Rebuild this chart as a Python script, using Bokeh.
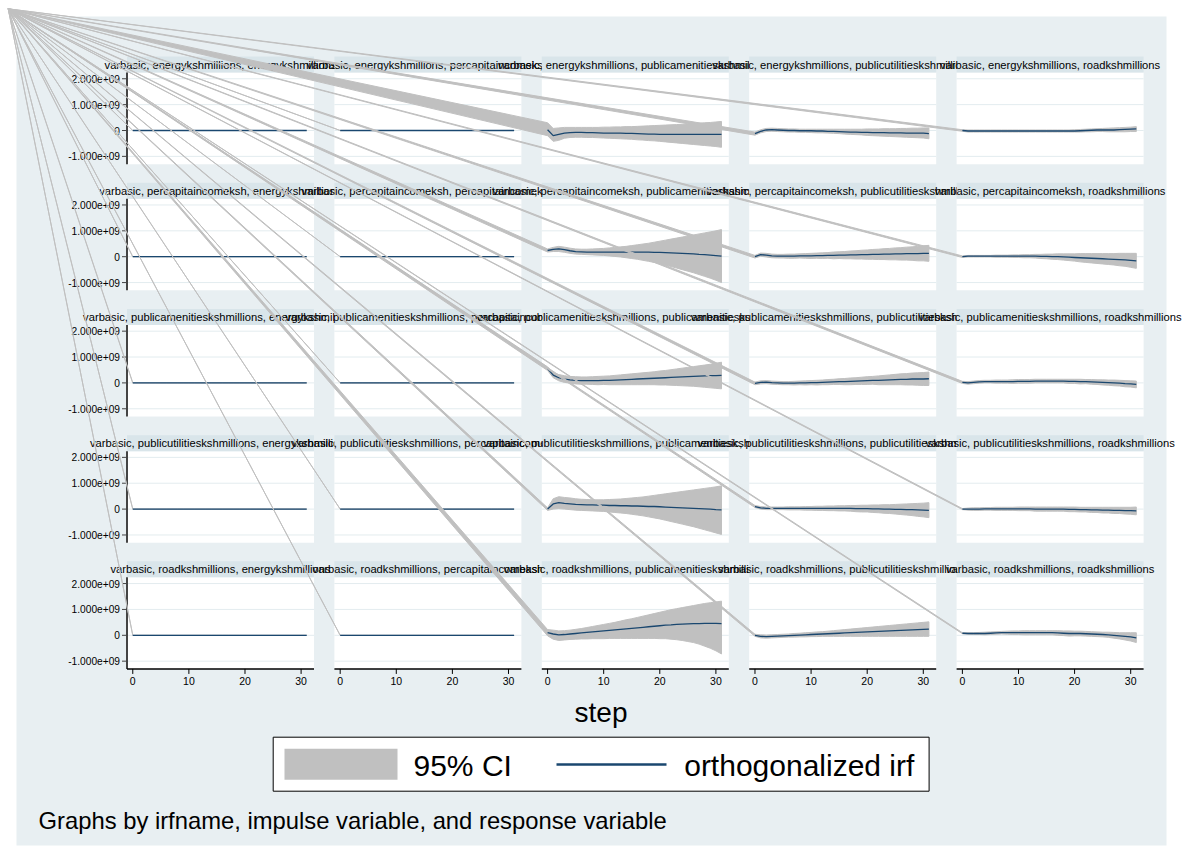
import math
from bokeh.plotting import figure
from bokeh.models import Range1d
from bokeh.embed import file_html
from bokeh.resources import INLINE
from bokeh.core.properties import value

# ---------------- data ----------------
irfname = "varbasic"
variables = ["energykshmillions", "percapitaincomeksh", "publicamenitieskshmillions",
             "publicutilitieskshmillions", "roadkshmillions"]
steps = list(range(32))
y_ticks = [-1, 0, 1, 2]                     # units of 1e9
y_tick_labels = ["-1.000e+09", "0", "1.000e+09", "2.000e+09"]
x_ticks = [0, 10, 20, 30]
x_tick_labels = ["0", "10", "20", "30"]

zero32 = [0.0] * 32   # responses of energy and per-capita income are ~0 on this scale

# impulse energy
irf_1_3 = [0.03,-0.20,-0.15,-0.10,-0.08,-0.07,-0.07,-0.08,-0.08,-0.09,-0.10,-0.10,-0.10,-0.10,-0.11,-0.11,-0.12,-0.13,-0.14,-0.14,-0.15,-0.15,-0.15,-0.15,-0.15,-0.15,-0.15,-0.15,-0.15,-0.15,-0.15,-0.15]
hi_1_3 = [0.30,0.08,0.10,0.12,0.12,0.12,0.12,0.12,0.12,0.12,0.13,0.13,0.14,0.14,0.15,0.15,0.16,0.17,0.18,0.19,0.20,0.21,0.22,0.23,0.24,0.25,0.27,0.28,0.30,0.31,0.33,0.35]
lo_1_3 = [-0.20,-0.42,-0.38,-0.30,-0.27,-0.26,-0.26,-0.27,-0.27,-0.28,-0.29,-0.30,-0.31,-0.32,-0.33,-0.34,-0.36,-0.37,-0.39,-0.40,-0.42,-0.44,-0.46,-0.48,-0.50,-0.52,-0.54,-0.56,-0.58,-0.60,-0.62,-0.65]
irf_1_4 = [-0.12,-0.03,0.02,0.03,0.02,0.01,0.0,0.0,-0.01,-0.01,-0.01,-0.02,-0.02,-0.03,-0.03,-0.04,-0.05,-0.06,-0.06,-0.07,-0.07,-0.08,-0.08,-0.08,-0.09,-0.09,-0.09,-0.10,-0.10,-0.10,-0.10,-0.12]
hi_1_4 = [-0.06,0.03,0.08,0.09,0.08,0.07,0.06,0.06,0.05,0.05,0.05,0.05,0.05,0.05,0.05,0.05,0.05,0.05,0.05,0.05,0.06,0.06,0.06,0.07,0.07,0.07,0.08,0.08,0.09,0.09,0.10,0.10]
lo_1_4 = [-0.18,-0.09,-0.04,-0.03,-0.04,-0.05,-0.06,-0.06,-0.07,-0.07,-0.08,-0.09,-0.09,-0.10,-0.11,-0.12,-0.14,-0.15,-0.16,-0.17,-0.19,-0.20,-0.21,-0.22,-0.23,-0.24,-0.25,-0.26,-0.27,-0.28,-0.29,-0.32]
irf_1_5 = [0.0,-0.02,-0.02,-0.02,-0.02,-0.02,-0.02,-0.02,-0.02,-0.02,-0.02,-0.02,-0.02,-0.02,-0.02,-0.02,-0.02,-0.02,-0.02,-0.02,-0.02,-0.01,0.0,0.01,0.02,0.02,0.02,0.02,0.03,0.04,0.05,0.06]
hi_1_5 = [0.03,0.02,0.02,0.02,0.02,0.02,0.02,0.02,0.02,0.02,0.02,0.02,0.02,0.02,0.02,0.02,0.02,0.02,0.02,0.02,0.03,0.04,0.05,0.06,0.07,0.08,0.09,0.10,0.11,0.12,0.13,0.15]
lo_1_5 = [-0.03,-0.06,-0.06,-0.06,-0.06,-0.06,-0.06,-0.06,-0.06,-0.06,-0.06,-0.06,-0.06,-0.06,-0.06,-0.06,-0.06,-0.06,-0.06,-0.06,-0.06,-0.06,-0.05,-0.05,-0.04,-0.04,-0.05,-0.05,-0.05,-0.05,-0.04,-0.04]

# impulse per-capita income
irf_2_3 = [0.24,0.28,0.30,0.27,0.23,0.20,0.19,0.18,0.18,0.18,0.18,0.18,0.18,0.18,0.18,0.18,0.18,0.18,0.18,0.17,0.17,0.16,0.15,0.14,0.13,0.12,0.11,0.09,0.08,0.06,0.04,0.02]
hi_2_3 = [0.30,0.36,0.40,0.37,0.33,0.30,0.29,0.29,0.30,0.31,0.32,0.34,0.36,0.38,0.40,0.43,0.46,0.49,0.52,0.56,0.60,0.64,0.68,0.72,0.76,0.80,0.84,0.88,0.92,0.96,1.00,1.05]
lo_2_3 = [0.18,0.20,0.20,0.17,0.13,0.10,0.09,0.08,0.07,0.06,0.05,0.03,0.01,-0.01,-0.04,-0.07,-0.10,-0.14,-0.18,-0.22,-0.27,-0.32,-0.38,-0.44,-0.50,-0.56,-0.62,-0.69,-0.76,-0.83,-0.91,-1.00]
irf_2_4 = [0.0,0.08,0.06,0.03,0.02,0.02,0.02,0.02,0.03,0.03,0.03,0.04,0.04,0.05,0.05,0.06,0.06,0.07,0.07,0.08,0.08,0.09,0.09,0.10,0.10,0.11,0.11,0.12,0.12,0.12,0.13,0.13]
hi_2_4 = [0.05,0.14,0.13,0.10,0.09,0.09,0.10,0.10,0.11,0.12,0.13,0.14,0.15,0.16,0.18,0.19,0.20,0.22,0.23,0.25,0.26,0.28,0.29,0.31,0.32,0.34,0.35,0.37,0.38,0.40,0.42,0.44]
lo_2_4 = [-0.05,0.02,-0.01,-0.04,-0.05,-0.05,-0.06,-0.06,-0.05,-0.06,-0.07,-0.06,-0.07,-0.06,-0.08,-0.07,-0.08,-0.08,-0.09,-0.09,-0.10,-0.10,-0.11,-0.11,-0.12,-0.12,-0.13,-0.13,-0.14,-0.16,-0.16,-0.18]
irf_2_5 = [0.0,0.02,0.02,0.02,0.02,0.02,0.02,0.02,0.02,0.02,0.02,0.02,0.02,0.02,0.01,0.01,0.0,0.0,-0.01,-0.02,-0.03,-0.04,-0.05,-0.06,-0.07,-0.08,-0.09,-0.10,-0.11,-0.12,-0.14,-0.16]
hi_2_5 = [0.03,0.05,0.05,0.05,0.05,0.05,0.06,0.06,0.06,0.07,0.07,0.08,0.08,0.09,0.09,0.10,0.10,0.11,0.11,0.11,0.11,0.12,0.12,0.12,0.12,0.12,0.12,0.12,0.13,0.13,0.13,0.13]
lo_2_5 = [-0.03,-0.01,-0.01,-0.01,-0.01,-0.01,-0.02,-0.02,-0.02,-0.03,-0.03,-0.04,-0.04,-0.05,-0.07,-0.08,-0.10,-0.11,-0.13,-0.15,-0.17,-0.20,-0.22,-0.24,-0.26,-0.28,-0.30,-0.32,-0.35,-0.37,-0.41,-0.45]

# impulse public amenities
irf_3_3 = [0.55,0.30,0.20,0.15,0.12,0.10,0.09,0.09,0.09,0.09,0.10,0.10,0.11,0.12,0.13,0.14,0.15,0.16,0.17,0.18,0.19,0.20,0.21,0.22,0.23,0.24,0.25,0.26,0.27,0.28,0.28,0.29]
hi_3_3 = [0.62,0.40,0.32,0.28,0.25,0.24,0.23,0.23,0.24,0.25,0.26,0.27,0.29,0.31,0.33,0.35,0.37,0.39,0.41,0.43,0.46,0.48,0.51,0.54,0.57,0.60,0.63,0.66,0.69,0.72,0.76,0.80]
lo_3_3 = [0.48,0.20,0.08,0.02,-0.01,-0.04,-0.05,-0.05,-0.06,-0.07,-0.06,-0.07,-0.07,-0.07,-0.07,-0.07,-0.07,-0.07,-0.07,-0.07,-0.08,-0.08,-0.09,-0.10,-0.11,-0.12,-0.13,-0.15,-0.17,-0.19,-0.21,-0.23]
irf_3_4 = [-0.02,0.02,0.03,0.01,0.0,-0.01,-0.01,-0.01,0.0,0.0,0.01,0.01,0.02,0.03,0.04,0.05,0.05,0.06,0.07,0.08,0.09,0.10,0.10,0.11,0.12,0.13,0.14,0.14,0.15,0.15,0.15,0.16]
hi_3_4 = [0.03,0.08,0.09,0.07,0.06,0.05,0.05,0.06,0.07,0.08,0.09,0.10,0.11,0.13,0.14,0.16,0.17,0.19,0.20,0.22,0.24,0.25,0.27,0.29,0.31,0.33,0.35,0.36,0.38,0.39,0.40,0.42]
lo_3_4 = [-0.07,-0.04,-0.03,-0.05,-0.06,-0.07,-0.07,-0.08,-0.07,-0.08,-0.07,-0.08,-0.07,-0.07,-0.06,-0.06,-0.07,-0.07,-0.06,-0.06,-0.06,-0.05,-0.07,-0.07,-0.07,-0.07,-0.07,-0.08,-0.08,-0.09,-0.10,-0.10]
irf_3_5 = [0.02,0.0,0.02,0.04,0.05,0.05,0.05,0.05,0.05,0.05,0.06,0.06,0.06,0.07,0.07,0.07,0.07,0.07,0.07,0.06,0.06,0.05,0.05,0.04,0.03,0.02,0.01,0.0,-0.01,-0.03,-0.04,-0.06]
hi_3_5 = [0.06,0.05,0.07,0.09,0.10,0.10,0.11,0.11,0.11,0.12,0.13,0.13,0.13,0.14,0.14,0.14,0.14,0.14,0.14,0.14,0.14,0.14,0.13,0.13,0.12,0.12,0.11,0.11,0.10,0.09,0.08,0.07]
lo_3_5 = [-0.02,-0.05,-0.03,-0.01,0.0,0.0,-0.01,-0.01,-0.01,-0.02,-0.01,-0.01,-0.01,0.0,0.0,0.0,0.0,0.0,0.0,-0.02,-0.02,-0.04,-0.03,-0.05,-0.06,-0.08,-0.09,-0.11,-0.12,-0.15,-0.16,-0.19]

# impulse public utilities
irf_4_3 = [0.0,0.20,0.25,0.22,0.20,0.18,0.17,0.16,0.16,0.15,0.15,0.14,0.14,0.13,0.13,0.12,0.12,0.11,0.10,0.10,0.09,0.08,0.07,0.06,0.05,0.04,0.03,0.02,0.01,0.0,-0.02,-0.03]
hi_4_3 = [0.05,0.40,0.48,0.45,0.43,0.40,0.38,0.37,0.36,0.36,0.36,0.37,0.38,0.39,0.41,0.43,0.45,0.47,0.50,0.53,0.56,0.59,0.62,0.65,0.68,0.71,0.74,0.77,0.80,0.83,0.86,0.90]
lo_4_3 = [-0.05,0.00,0.02,0.0,-0.02,-0.04,-0.05,-0.06,-0.07,-0.08,-0.09,-0.11,-0.13,-0.15,-0.17,-0.20,-0.23,-0.26,-0.30,-0.34,-0.38,-0.43,-0.48,-0.53,-0.58,-0.63,-0.68,-0.74,-0.80,-0.86,-0.92,-0.98]
irf_4_4 = [0.10,0.05,0.03,0.03,0.03,0.03,0.03,0.03,0.03,0.03,0.03,0.03,0.03,0.03,0.03,0.03,0.03,0.03,0.02,0.02,0.02,0.01,0.01,0.0,0.0,-0.01,-0.01,-0.02,-0.02,-0.03,-0.04,-0.05]
hi_4_4 = [0.14,0.10,0.08,0.08,0.08,0.08,0.09,0.09,0.09,0.10,0.10,0.11,0.11,0.12,0.12,0.13,0.13,0.14,0.14,0.15,0.15,0.16,0.16,0.17,0.17,0.18,0.19,0.20,0.21,0.22,0.23,0.25]
lo_4_4 = [0.06,0.0,-0.02,-0.02,-0.02,-0.02,-0.03,-0.03,-0.03,-0.04,-0.04,-0.05,-0.05,-0.06,-0.06,-0.07,-0.07,-0.08,-0.10,-0.11,-0.11,-0.13,-0.14,-0.16,-0.17,-0.19,-0.21,-0.23,-0.25,-0.28,-0.30,-0.33]
irf_4_5 = [0.0,0.0,0.0,0.0,0.01,0.01,0.01,0.01,0.01,0.01,0.01,0.01,0.01,0.0,0.0,0.0,0.0,0.0,0.0,-0.01,-0.01,-0.02,-0.02,-0.03,-0.03,-0.04,-0.04,-0.05,-0.05,-0.06,-0.06,-0.07]
hi_4_5 = [0.02,0.04,0.05,0.05,0.06,0.06,0.07,0.07,0.07,0.07,0.08,0.08,0.08,0.08,0.08,0.08,0.08,0.08,0.08,0.08,0.08,0.07,0.07,0.07,0.07,0.07,0.07,0.07,0.07,0.07,0.07,0.08]
lo_4_5 = [-0.02,-0.04,-0.05,-0.05,-0.04,-0.04,-0.05,-0.05,-0.05,-0.05,-0.06,-0.06,-0.06,-0.08,-0.08,-0.08,-0.08,-0.08,-0.08,-0.10,-0.10,-0.11,-0.11,-0.13,-0.13,-0.15,-0.15,-0.17,-0.17,-0.19,-0.20,-0.22]

# impulse road
irf_5_3 = [0.10,0.05,0.02,0.03,0.05,0.07,0.09,0.11,0.13,0.15,0.17,0.19,0.21,0.23,0.25,0.27,0.29,0.31,0.33,0.35,0.37,0.39,0.40,0.42,0.43,0.44,0.45,0.45,0.46,0.46,0.46,0.45]
hi_5_3 = [0.22,0.20,0.17,0.18,0.20,0.23,0.26,0.30,0.34,0.38,0.42,0.46,0.50,0.55,0.60,0.64,0.69,0.74,0.79,0.84,0.89,0.94,0.99,1.03,1.07,1.11,1.15,1.19,1.23,1.26,1.29,1.32]
lo_5_3 = [-0.02,-0.15,-0.20,-0.18,-0.16,-0.15,-0.14,-0.14,-0.13,-0.13,-0.13,-0.12,-0.12,-0.12,-0.12,-0.12,-0.12,-0.12,-0.12,-0.12,-0.13,-0.13,-0.15,-0.17,-0.20,-0.24,-0.28,-0.34,-0.42,-0.50,-0.60,-0.72]
irf_5_4 = [0.0,-0.04,-0.05,-0.04,-0.03,-0.02,-0.01,0.0,0.01,0.02,0.03,0.04,0.05,0.06,0.07,0.08,0.09,0.10,0.11,0.12,0.13,0.14,0.15,0.16,0.17,0.18,0.19,0.20,0.21,0.22,0.23,0.24]
hi_5_4 = [0.04,0.02,0.01,0.02,0.03,0.04,0.05,0.07,0.08,0.10,0.11,0.13,0.14,0.16,0.18,0.20,0.22,0.24,0.26,0.28,0.30,0.32,0.34,0.36,0.38,0.40,0.42,0.44,0.46,0.48,0.50,0.52]
lo_5_4 = [-0.04,-0.10,-0.11,-0.10,-0.09,-0.08,-0.07,-0.07,-0.06,-0.06,-0.05,-0.05,-0.04,-0.04,-0.04,-0.04,-0.04,-0.04,-0.04,-0.04,-0.04,-0.04,-0.04,-0.04,-0.04,-0.04,-0.04,-0.04,-0.04,-0.04,-0.04,-0.04]
irf_5_5 = [0.08,0.07,0.07,0.07,0.07,0.08,0.09,0.10,0.10,0.10,0.10,0.10,0.10,0.10,0.10,0.10,0.10,0.09,0.08,0.07,0.07,0.07,0.06,0.05,0.04,0.03,0.02,0.0,-0.02,-0.04,-0.06,-0.10]
hi_5_5 = [0.10,0.10,0.10,0.11,0.12,0.13,0.14,0.15,0.16,0.17,0.17,0.18,0.18,0.18,0.18,0.18,0.18,0.18,0.17,0.17,0.16,0.16,0.15,0.14,0.13,0.12,0.12,0.11,0.10,0.10,0.10,0.10]
lo_5_5 = [0.06,0.04,0.03,0.03,0.02,0.03,0.04,0.05,0.04,0.03,0.03,0.02,0.02,0.02,0.02,0.02,0.02,0.00,-0.01,-0.03,-0.02,-0.02,-0.03,-0.04,-0.05,-0.06,-0.08,-0.11,-0.14,-0.18,-0.22,-0.28]

panels = {
    (1, 3): (irf_1_3, lo_1_3, hi_1_3), (1, 4): (irf_1_4, lo_1_4, hi_1_4), (1, 5): (irf_1_5, lo_1_5, hi_1_5),
    (2, 3): (irf_2_3, lo_2_3, hi_2_3), (2, 4): (irf_2_4, lo_2_4, hi_2_4), (2, 5): (irf_2_5, lo_2_5, hi_2_5),
    (3, 3): (irf_3_3, lo_3_3, hi_3_3), (3, 4): (irf_3_4, lo_3_4, hi_3_4), (3, 5): (irf_3_5, lo_3_5, hi_3_5),
    (4, 3): (irf_4_3, lo_4_3, hi_4_3), (4, 4): (irf_4_4, lo_4_4, hi_4_4), (4, 5): (irf_4_5, lo_4_5, hi_4_5),
    (5, 3): (irf_5_3, lo_5_3, hi_5_3), (5, 4): (irf_5_4, lo_5_4, hi_5_4), (5, 5): (irf_5_5, lo_5_5, hi_5_5),
}

# ---------------- layout / style ----------------
W, H = 1182, 860
FONT = value("Liberation Sans")
BG = "#e8eff2"
STRIP = "#d9e5ea"
GRID = "#e3ecef"
CI = "#c0c0c0"
NAVY = "#1a476f"

X0, X1 = -1.03, 32.3
Y0, Y1 = -1.3, 2.24
PW = 187.0
PXPERUNIT = 25.87
col_left = [126.5 + 207.4 * c for c in range(5)]
row_zero = [130.0 + 126.2 * r for r in range(5)]
CORNER = (7.7, 8.3)

p = figure(width=W, height=H, x_range=Range1d(0, W), y_range=Range1d(H, 0),
           output_backend="svg", toolbar_location=None,
           x_axis_location=None, y_axis_location=None, min_border=0)
p.grid.visible = False
p.outline_line_color = None
p.background_fill_color = "white"
p.border_fill_color = "white"

# graph region
p.quad(left=16, right=1166, top=16, bottom=845, fill_color=BG, line_color=None)

for r in range(5):
    for c in range(5):
        L = col_left[c]
        top_px = row_zero[r] - Y1 * PXPERUNIT
        bot_px = row_zero[r] - Y0 * PXPERUNIT
        sub = p.subplot(x_source=Range1d(X0, X1), y_source=Range1d(Y0, Y1),
                        x_target=Range1d(L, L + PW), y_target=Range1d(bot_px, top_px))
        # plot region
        sub.quad(left=X0, right=X1, bottom=Y0, top=Y1, fill_color="white", line_color=None)
        # title strip
        p.quad(left=L, right=L + PW, top=top_px - 16, bottom=top_px, fill_color=STRIP, line_color=None)
        title = f"{irfname}, {variables[r]}, {variables[c]}"
        p.text(x=[L + PW / 2], y=[top_px - 8], text=[title], text_align="center",
               text_baseline="middle", text_font=FONT, text_font_size="11.2px", text_color="black")
        # grid
        sub.segment(x0=[X0] * len(y_ticks), x1=[X1] * len(y_ticks), y0=y_ticks, y1=y_ticks,
                    line_color=GRID, line_width=1)
        if c == 0:
            sub.segment(x0=[X0], x1=[X0], y0=[Y0], y1=[Y1], line_color="#444444", line_width=2)
            sub.ray(x=[X0] * len(y_ticks), y=y_ticks, length=5, length_units="screen",
                    angle=math.pi, line_color="#444444", line_width=1)
            sub.text(x=[X0] * len(y_ticks), y=y_ticks, text=y_tick_labels, x_offset=-7,
                     text_align="right", text_baseline="middle", text_font=FONT,
                     text_font_size="10.2px", text_color="black")
        if r == 4:
            sub.segment(x0=[X0], x1=[X1], y0=[Y0], y1=[Y0], line_color="black", line_width=1.5)
            sub.ray(x=x_ticks, y=[Y0] * len(x_ticks), length=5, length_units="screen",
                    angle=-math.pi / 2, line_color="black", line_width=1)
            sub.text(x=x_ticks, y=[Y0] * len(x_ticks), text=x_tick_labels, y_offset=8,
                     text_align="center", text_baseline="top", text_font=FONT,
                     text_font_size="10.5px", text_color="black")
        irf, lo, hi = panels.get((r + 1, c + 1), (zero32, zero32, zero32))
        # CI band (with its stray vertex at the page corner, as in the original export)
        cxs = X0 + (CORNER[0] - L) * (X1 - X0) / PW
        cys = Y0 + (CORNER[1] - bot_px) * (Y1 - Y0) / (top_px - bot_px)
        sub.patch(x=[cxs] + steps + steps[::-1], y=[cys] + hi + lo[::-1],
                  fill_color=CI, line_color=CI, line_width=1)
        sub.line(x=steps, y=irf, line_color=NAVY, line_width=1.3)

# x axis title
p.text(x=[600.5], y=[711.5], text=["step"], text_align="center", text_baseline="middle",
       text_font=FONT, text_font_size="28px", text_color="black")

# legend
p.quad(left=272.7, right=928.6, top=736.7, bottom=790.7, fill_color="white",
       line_color="black", line_width=1)
p.quad(left=284, right=397, top=748.3, bottom=779.3, fill_color=CI, line_color=None)
p.text(x=[413], y=[765], text=["95% CI"], text_align="left", text_baseline="middle",
       text_font=FONT, text_font_size="30px", text_color="black")
p.segment(x0=[556], x1=[666], y0=[764], y1=[764], line_color=NAVY, line_width=2.5)
p.text(x=[683.7], y=[765], text=["orthogonalized irf"], text_align="left",
       text_baseline="middle", text_font=FONT, text_font_size="30px", text_color="black")

# note
p.text(x=[38], y=[820], text=["Graphs by irfname, impulse variable, and response variable"],
       text_align="left", text_baseline="middle", text_font=FONT,
       text_font_size="23.8px", text_color="black")

open("out.html", "w").write(file_html(p, INLINE))
